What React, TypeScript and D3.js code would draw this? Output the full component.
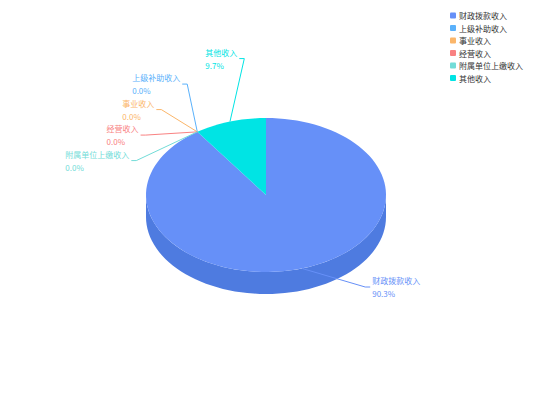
import React from "react";
import * as d3 from "d3";

const categories = ["财政拨款收入", "上级补助收入", "事业收入", "经营收入", "附属单位上缴收入", "其他收入"];
const values = [90.3, 0, 0, 0, 0, 9.7];
const colors = ["#6690f8", "#5ab1fb", "#fbb66a", "#f98282", "#72dcd8", "#00e4e4"];
const sideColors = ["#4e7be0", "#4a9be0", "#e0a055", "#e06c6c", "#5cc4c0", "#00c8c8"];

const W = 534;
const H = 400;
const cx = 266;
const cy = 195;
const rx = 120;
const ry = 77;
const depth = 22;
const labelR = 143;
const labelRx = 139;
const spacing = 25.5;
const fontSize = 8;
const fontFamily = "'Noto Sans CJK SC', 'Noto Sans', sans-serif";

function pt(a: number, dy = 0) {
  return [cx + rx * Math.sin(a), cy - ry * Math.cos(a) + dy];
}

function topPath(a0: number, a1: number) {
  if (a1 - a0 <= 1e-9) return "";
  const n = Math.max(2, Math.ceil(((a1 - a0) / (2 * Math.PI)) * 120));
  const pts: number[][] = [[cx, cy]];
  for (let i = 0; i <= n; i++) pts.push(pt(a0 + ((a1 - a0) * i) / n));
  return d3.line()(pts as [number, number][]) + "Z";
}

function sidePath(a0: number, a1: number) {
  const s = Math.max(a0, Math.PI / 2);
  const e = Math.min(a1, (3 * Math.PI) / 2);
  if (e - s <= 1e-9) return "";
  const n = Math.max(2, Math.ceil(((e - s) / (2 * Math.PI)) * 120));
  const top: number[][] = [];
  const bot: number[][] = [];
  for (let i = 0; i <= n; i++) {
    const a = s + ((e - s) * i) / n;
    top.push(pt(a));
    bot.push(pt(a, depth));
  }
  return d3.line()(top.concat(bot.reverse()) as [number, number][]) + "Z";
}

export default function App() {
  const arcs = d3.pie<number>().sort(null).startAngle(0).endAngle(2 * Math.PI)(values);

  type L = { i: number; mid: number; side: number; y: number; target: number };
  const labels: L[] = arcs.map((a, i) => {
    const mid = (a.startAngle + a.endAngle) / 2;
    const side = Math.sin(mid) < -1e-9 || (Math.abs(Math.sin(mid)) < 1e-9 && Math.cos(mid) < 0) ? -1 : 1;
    let target = cy - labelR * Math.cos(mid);
    target = Math.min(target, cy + ry + 15);
    return { i, mid, side, y: target, target };
  });
  [-1, 1].forEach((side) => {
    const group = labels.filter((l) => l.side === side).sort((a, b) => a.target - b.target || a.i - b.i);
    let prev = -Infinity;
    group.forEach((l) => {
      l.y = Math.max(l.target, prev + spacing);
      prev = l.y;
    });
  });

  const legendY = d3.scalePoint<string>().domain(categories).range([15.5, 78]);
  const total = d3.sum(values);

  return (
    <svg width={W} height={H} style={{ position: "absolute", left: 0, top: 0 }}>
      <rect width={W} height={H} fill="#fff" />
      {arcs.map((a, i) => (
        <path key={"s" + i} d={sidePath(a.startAngle, a.endAngle)} fill={sideColors[i]} />
      ))}
      {arcs.map((a, i) => (
        <path key={"t" + i} d={topPath(a.startAngle, a.endAngle)} fill={colors[i]} />
      ))}
      {labels.map((l) => {
        const p = pt(l.mid);
        const dy = l.y - cy;
        const ex = cx + l.side * Math.sqrt(Math.max(0, labelRx * labelRx - dy * dy));
        const bx = ex - l.side * 5;
        const tx = ex + l.side * 2;
        const pct = (values[l.i] / total) * 100;
        return (
          <g key={"l" + l.i}>
            <polyline
              points={`${p[0]},${p[1]} ${bx},${l.y} ${ex},${l.y}`}
              fill="none"
              stroke={colors[l.i]}
              strokeWidth={1}
            />
            <text
              x={tx}
              y={l.y - 6.5}
              textAnchor={l.side < 0 ? "end" : "start"}
              dominantBaseline="central"
              fontSize={fontSize}
              fontFamily={fontFamily}
              fill={colors[l.i]}
            >
              {categories[l.i]}
            </text>
            <text
              x={l.side < 0 ? tx - categories[l.i].length * fontSize : tx}
              y={l.y + 6.5}
              textAnchor="start"
              dominantBaseline="central"
              fontSize={fontSize}
              fontFamily={fontFamily}
              fill={colors[l.i]}
            >
              {pct.toFixed(1) + "%"}
            </text>
          </g>
        );
      })}
      {categories.map((c, i) => (
        <g key={"lg" + i} transform={`translate(450, ${legendY(c)})`}>
          <rect x={0} y={-3} width={6} height={6} rx={1} fill={colors[i]} />
          <text x={9} y={0} dominantBaseline="central" fontSize={fontSize} fontFamily={fontFamily} fill="#333">
            {c}
          </text>
        </g>
      ))}
    </svg>
  );
}
